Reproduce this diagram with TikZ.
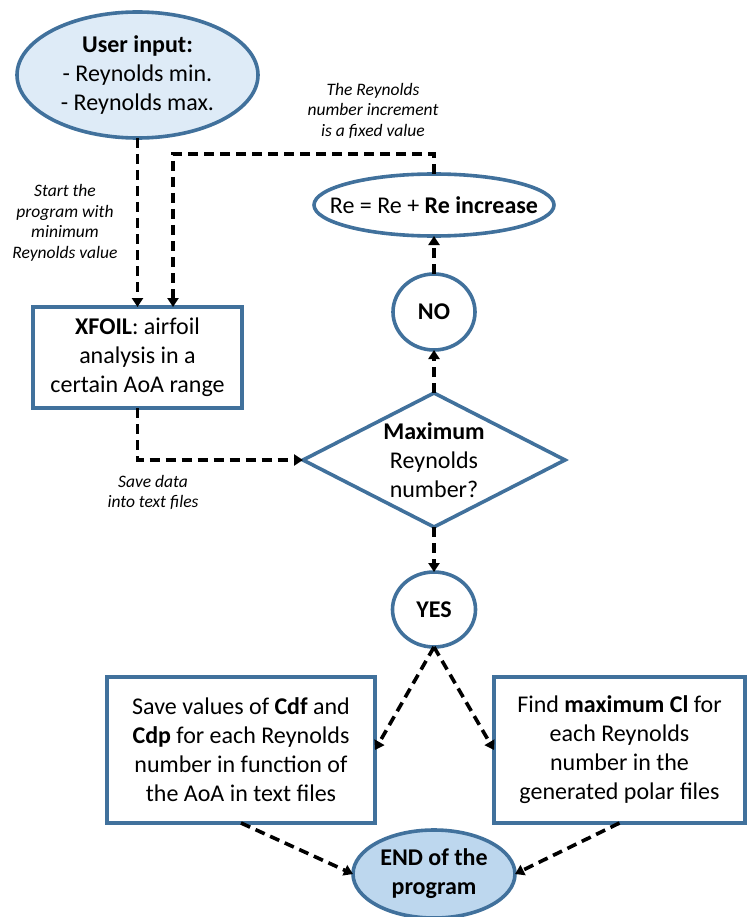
\documentclass[tikz,border=0pt]{standalone}
\usepackage{fontspec}
\setmainfont{Carlito}
\usetikzlibrary{shapes.geometric,arrows.meta}
\definecolor{bordercol}{HTML}{41719C}
\definecolor{userfill}{HTML}{DEEBF7}
\definecolor{endfill}{HTML}{BDD7EE}
\tikzset{
  shapebase/.style={draw=bordercol, line width=3.6pt, inner sep=0pt, outer sep=0pt, align=center, font=\fontsize{24}{29}\selectfont, text=black},
  ell/.style={shapebase, ellipse},
  boxn/.style={shapebase, rectangle},
  decn/.style={shapebase, diamond, aspect=1.955},
  arr/.style={draw=black, line width=3.6pt, dash pattern=on 10pt off 6pt, -{Triangle[length=9pt,width=11pt]}},
  note/.style={align=center, font=\fontsize{17.5}{20.5}\selectfont\itshape, inner sep=0pt}
}
\begin{document}
\begin{tikzpicture}[x=1pt,y=-1pt]
\useasboundingbox (0,0) rectangle (747,917);
% nodes
\node[ell, fill=userfill, minimum width=241pt, minimum height=126pt] (user) at (137.5,75) {\textbf{User input:}\\- Reynolds min.\\- Reynolds max.};
\node[ell, fill=white, minimum width=240pt, minimum height=62pt] (re) at (434,205) {\makebox[0pt]{Re = Re + \textbf{Re increase}}};
\node[ell, fill=white, minimum width=82pt, minimum height=76pt] (no) at (434,312) {\textbf{NO}};
\node[boxn, fill=white, minimum width=209pt, minimum height=101pt] (xfoil) at (137.5,357.5) {\textbf{XFOIL}: airfoil\\analysis in a\\certain AoA range};
\node[decn, fill=white, minimum width=262pt, minimum height=134pt] (dec) at (434,460) {\textbf{Maximum}\\Reynolds\\number?};
\node[ell, fill=white, minimum width=83pt, minimum height=75pt] (yes) at (434,609.5) {\textbf{YES}};
\node[boxn, fill=white, minimum width=268pt, minimum height=146pt] (save) at (241,750) {Save values of \textbf{Cdf} and\\\textbf{Cdp} for each Reynolds\\number in function of\\the AoA in text files};
\node[boxn, fill=white, minimum width=251pt, minimum height=146pt] (find) at (619.5,750) {Find \textbf{maximum Cl} for\\each Reynolds\\number in the\\generated polar files};
\node[ell, fill=endfill, minimum width=162pt, minimum height=88pt] (endn) at (434,874) {\textbf{END of the}\\\textbf{program}};
% notes
\node[note] (n1) at (65,223) {Start the\\program with\\minimum\\Reynolds value};
\node[note] (n2) at (373,110.5) {The Reynolds\\number increment\\is a fixed value};
\node[note] (n3) at (153,492.5) {Save data\\into text files};
% connectors
\coordinate (loopc) at (173,154);
\draw[arr] (user.south) -- (xfoil.north);
\draw[arr] (re.north) |- (loopc) -- (xfoil.north -| loopc);
\draw[arr] (no.north) -- (re.south);
\draw[arr] (dec.north) -- (no.south);
\draw[arr] (xfoil.south) |- (dec.west);
\draw[arr] (dec.south) -- (yes.north);
\draw[arr] (yes.south) -- (save.east);
\draw[arr] (yes.south) -- (find.west);
\draw[arr] (save.south) -- (endn.west);
\draw[arr] (find.south) -- (endn.east);
\end{tikzpicture}
\end{document}
